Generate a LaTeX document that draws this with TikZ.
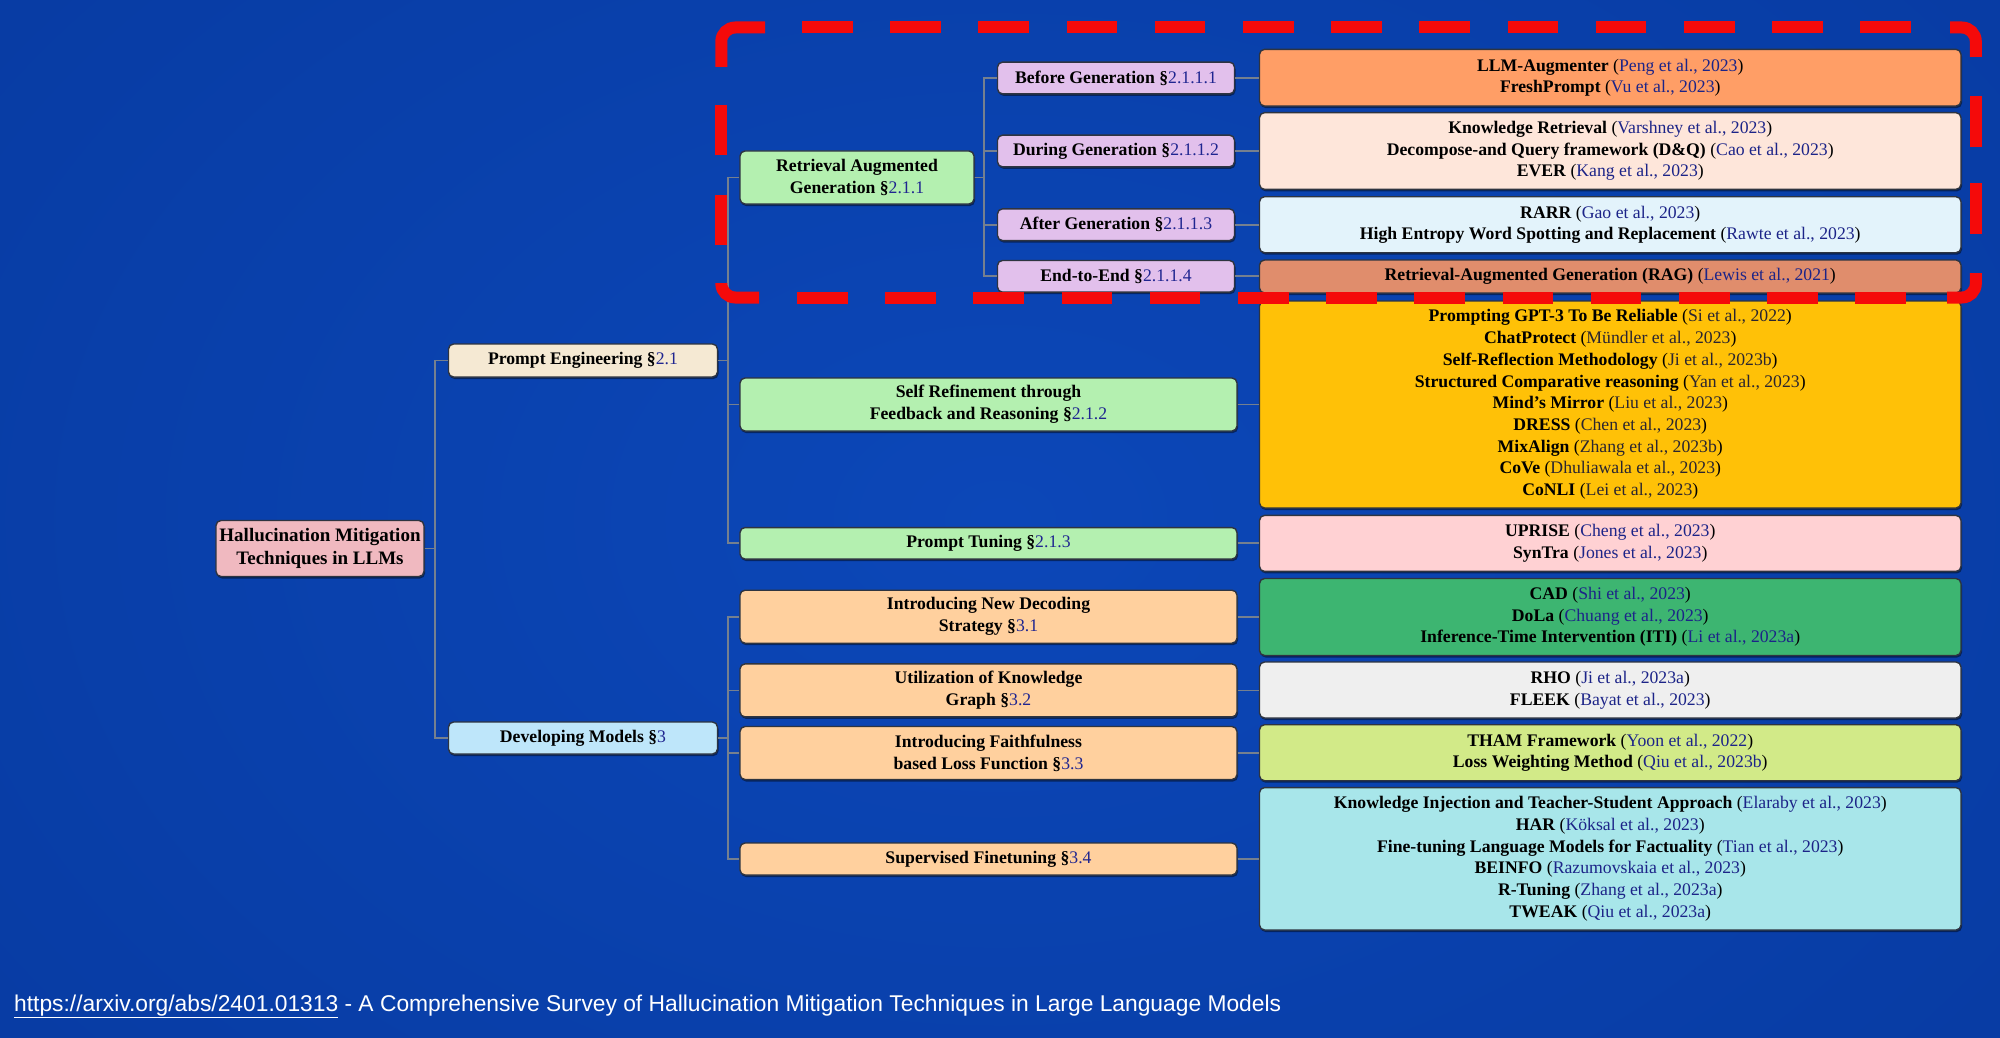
\documentclass[tikz,border=0pt]{standalone}
\usepackage{fontspec}
\setmainfont{Liberation Serif}
\newfontfamily\footfont{Liberation Sans}
\usetikzlibrary{shadows}
\definecolor{bgin}{HTML}{0C47B8}
\definecolor{bgout}{HTML}{03308E}
\definecolor{boxline}{HTML}{2E3440}
\definecolor{connc}{HTML}{75808F}
\definecolor{dashred}{HTML}{F50A0A}
\definecolor{secblue}{HTML}{1F2590}
\definecolor{citeblue}{HTML}{1C2488}
\definecolor{citedark}{HTML}{2A2530}
\definecolor{croot}{HTML}{F0B9C0}
\definecolor{cpe}{HTML}{F5E9D3}
\definecolor{cdm}{HTML}{BEE6FA}
\definecolor{cgreen}{HTML}{B4F0B0}
\definecolor{clav}{HTML}{E2C0EC}
\definecolor{cpeach}{HTML}{FFD09E}
\definecolor{lone}{HTML}{FF9E66}
\definecolor{ltwo}{HTML}{FEE6DA}
\definecolor{lthree}{HTML}{E3F3FB}
\definecolor{lfour}{HTML}{E08D6C}
\definecolor{lfive}{HTML}{FFC107}
\definecolor{lsix}{HTML}{FFD1D3}
\definecolor{lseven}{HTML}{3DB571}
\definecolor{leight}{HTML}{EFEFEF}
\definecolor{lnine}{HTML}{D2EA88}
\definecolor{lten}{HTML}{A8E6EA}
\pgfdeclareradialshading{bgshade}{\pgfpoint{0bp}{0bp}}{color(0bp)=(bgin); color(40bp)=(bgout); color(50bp)=(bgout)}
\newcommand\secn[1]{\S\textcolor{secblue}{\mdseries #1}}
\newcommand\cit[1]{{\mdseries(\textcolor{citeblue}{#1})}}
\newcommand\citd[1]{{\mdseries(\textcolor{citedark}{#1})}}
\newcommand\midf{\fontsize{17.7}{22}\selectfont\bfseries}
\newcommand\rootf{\fontsize{19}{22.3}\selectfont\bfseries}
\newcommand\leaff{\fontsize{17.7}{21.7}\selectfont}
\tikzset{
  box/.style={draw=boxline, line width=1.4, rounded corners=5, inner sep=0, align=center, anchor=center,
    drop shadow={shadow xshift=1pt, shadow yshift=-2pt, opacity=0.45, fill=black}},
  midbox/.style={box, font=\midf, minimum width=497, minimum height=53},
  subbox/.style={box, font=\midf, fill=clav, minimum width=237, minimum height=31.7},
  leafbox/.style={box, font=\leaff, minimum width=701.5},
  conn/.style={draw=connc, line width=1.8},
  reddash/.style={draw=dashred, line width=12, line cap=butt}
}
\begin{document}
\begin{tikzpicture}[x=1pt,y=-1pt]
\useasboundingbox (0,0) rectangle (2000,1038);
\begin{scope}
\clip (0,0) rectangle (2000,1038);
\shade[shading=bgshade] (-600,-600) rectangle (2600,1638);
\end{scope}

% level 0 and 1
\node[box, fill=croot, font=\rootf, minimum width=208, minimum height=56] (root) at (320,548.5) {Hallucination Mitigation\\Techniques in LLMs};
\node[box, fill=cpe, font=\midf, minimum width=269, minimum height=33] (pe) at (583,360.5) {Prompt Engineering \secn{2.1}};
\node[box, fill=cdm, font=\midf, minimum width=269, minimum height=32] (dm) at (583,738) {Developing Models \secn{3}};

% level 2
\node[box, fill=cgreen, font=\midf, minimum width=234, minimum height=53] (rag) at (857,177.5) {Retrieval Augmented\\Generation \secn{2.1.1}};
\node[midbox, fill=cgreen] (srf) at (988.5,404.5) {Self Refinement through\\Feedback and Reasoning \secn{2.1.2}};
\node[midbox, fill=cgreen, minimum height=31.5] (pt) at (988.5,543.3) {Prompt Tuning \secn{2.1.3}};
\node[midbox, fill=cpeach] (nds) at (988.5,616.7) {Introducing New Decoding\\Strategy \secn{3.1}};
\node[midbox, fill=cpeach] (ukg) at (988.5,690.4) {Utilization of Knowledge\\Graph \secn{3.2}};
\node[midbox, fill=cpeach] (iff) at (988.5,753) {Introducing Faithfulness\\based Loss Function \secn{3.3}};
\node[midbox, fill=cpeach, minimum height=32] (sft) at (988.5,859) {Supervised Finetuning \secn{3.4}};

% level 3
\node[subbox] (bg) at (1116,78) {Before Generation \secn{2.1.1.1}};
\node[subbox] (dg) at (1116,151) {During Generation \secn{2.1.1.2}};
\node[subbox] (ag) at (1116,224.7) {After Generation \secn{2.1.1.3}};
\node[subbox] (ee) at (1116,276.3) {End-to-End \secn{2.1.1.4}};

% leaves
\node[leafbox, fill=lone, minimum height=56.7] (l1) at (1610.25,77.7) {\textbf{LLM-Augmenter} \cit{Peng et al., 2023}\\\textbf{FreshPrompt} \cit{Vu et al., 2023}};
\node[leafbox, fill=ltwo, minimum height=76.7] (l2) at (1610.25,151) {\textbf{Knowledge Retrieval} \cit{Varshney et al., 2023}\\\textbf{Decompose-and Query framework (D\&Q)} \cit{Cao et al., 2023}\\\textbf{EVER} \cit{Kang et al., 2023}};
\node[leafbox, fill=lthree, minimum height=56] (l3) at (1610.25,224.7) {\textbf{RARR} \cit{Gao et al., 2023}\\\textbf{High Entropy Word Spotting and Replacement} \cit{Rawte et al., 2023}};
\node[leafbox, fill=lfour, minimum height=33] (l4) at (1610.25,276.5) {\textbf{Retrieval-Augmented Generation (RAG)} \cit{Lewis et al., 2021}};
\node[leafbox, fill=lfive, minimum height=207] (l5) at (1610.25,404.5) {\textbf{Prompting GPT-3 To Be Reliable} \citd{Si et al., 2022}\\\textbf{ChatProtect} \citd{Mündler et al., 2023}\\\textbf{Self-Reflection Methodology} \citd{Ji et al., 2023b}\\\textbf{Structured Comparative reasoning} \citd{Yan et al., 2023}\\\textbf{Mind’s Mirror} \citd{Liu et al., 2023}\\\textbf{DRESS} \citd{Chen et al., 2023}\\\textbf{MixAlign} \citd{Zhang et al., 2023b}\\\textbf{CoVe} \citd{Dhuliawala et al., 2023}\\\textbf{CoNLI} \citd{Lei et al., 2023}};
\node[leafbox, fill=lsix, minimum height=56] (l6) at (1610.25,543.4) {\textbf{UPRISE} \cit{Cheng et al., 2023}\\\textbf{SynTra} \cit{Jones et al., 2023}};
\node[leafbox, fill=lseven, minimum height=77] (l7) at (1610.25,617) {\textbf{CAD} \cit{Shi et al., 2023}\\\textbf{DoLa} \cit{Chuang et al., 2023}\\\textbf{Inference-Time Intervention (ITI)} \cit{Li et al., 2023a}};
\node[leafbox, fill=leight, minimum height=56] (l8) at (1610.25,690) {\textbf{RHO} \cit{Ji et al., 2023a}\\\textbf{FLEEK} \cit{Bayat et al., 2023}};
\node[leafbox, fill=lnine, minimum height=56] (l9) at (1610.25,752.7) {\textbf{THAM Framework} \cit{Yoon et al., 2022}\\\textbf{Loss Weighting Method} \cit{Qiu et al., 2023b}};
\node[leafbox, fill=lten, minimum height=142.4] (l10) at (1610.25,858.8) {\textbf{Knowledge Injection and Teacher-Student Approach} \cit{Elaraby et al., 2023}\\\textbf{HAR} \cit{Köksal et al., 2023}\\\textbf{Fine-tuning Language Models for Factuality} \cit{Tian et al., 2023}\\\textbf{BEINFO} \cit{Razumovskaia et al., 2023}\\\textbf{R-Tuning} \cit{Zhang et al., 2023a}\\\textbf{TWEAK} \cit{Qiu et al., 2023a}};

% connectors
\draw[conn] (root.east) -- ++(10,0) |- (pe.west);
\draw[conn] (root.east) -- ++(10,0) |- (dm.west);
\foreach \t in {rag,srf,pt} \draw[conn] (pe.east) -- ++(9.5,0) |- (\t.west);
\foreach \t in {nds,ukg,iff,sft} \draw[conn] (dm.east) -- ++(9.5,0) |- (\t.west);
\foreach \t in {bg,dg,ag,ee} \draw[conn] (rag.east) -- ++(9,0) |- (\t.west);
\foreach \a/\b in {bg/l1,dg/l2,ag/l3,ee/l4,srf/l5,pt/l6,nds/l7,ukg/l8,iff/l9,sft/l10}
  \draw[conn] (\a.east) -- (\a.east -| \b.west);

% red dashed frame
\foreach \k in {0,...,12} {
  \draw[reddash] ({802+88.2*\k},27.5) -- ++(50.5,0);
  \draw[reddash] ({797+88.2*\k},297.5) -- ++(50.5,0);
}
\draw[reddash] (721.3,105) -- (721.3,155);
\draw[reddash] (721.3,195) -- (721.3,245);
\draw[reddash] (1975.8,96.5) -- (1975.8,147);
\draw[reddash] (1975.8,183) -- (1975.8,233.5);
\draw[reddash, rounded corners=14] (721.3,67) -- (721.3,27.5) -- (765,27.5);
\draw[reddash, rounded corners=14] (1950,27.5) -- (1975.8,27.5) -- (1975.8,57);
\draw[reddash, rounded corners=14] (1975.8,273) -- (1975.8,297.5) -- (1947,297.5);
\draw[reddash, rounded corners=14] (759,297.5) -- (721.3,297.5) -- (721.3,283);

% footer
\node[anchor=base west, inner sep=0, text=white, font=\footfont\fontsize{22.8}{28}\selectfont] (foot) at (14,1011) {\underline{https://arxiv.org/abs/2401.01313} - A Comprehensive Survey of Hallucination Mitigation Techniques in Large Language Models};
\end{tikzpicture}
\end{document}
